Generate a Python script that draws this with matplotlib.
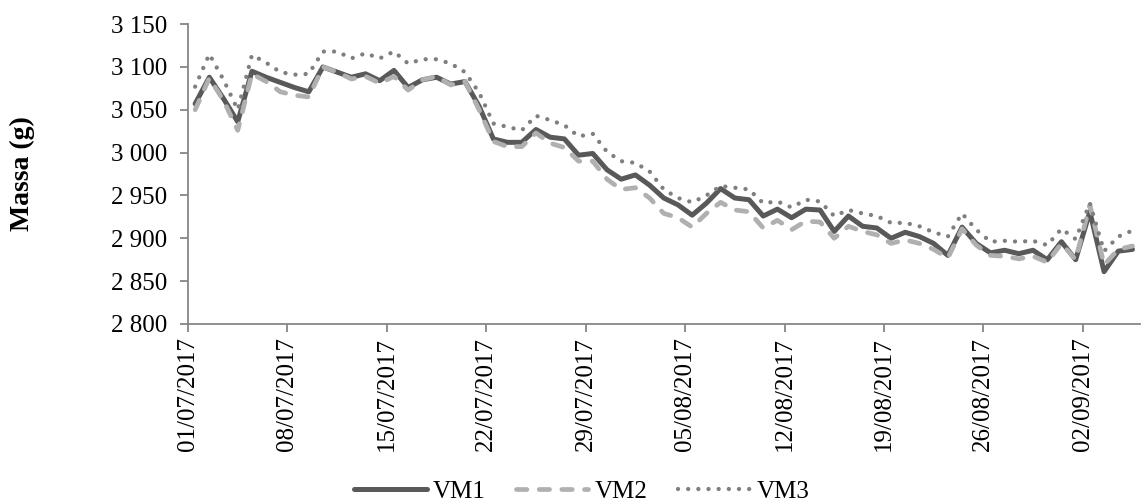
import numpy as np
import pandas as pd
import matplotlib
matplotlib.use("Agg")
import matplotlib.pyplot as plt
from matplotlib.ticker import FuncFormatter, FixedLocator

# daily mass readings, 01/07/2017 .. 05/09/2017
start_date = "2017-07-01"
vm1 = [3057, 3088, 3063, 3036, 3095, 3088, 3082, 3076, 3071, 3100, 3094,
       3088, 3092, 3084, 3096, 3076, 3085, 3088, 3080, 3083, 3054, 3016,
       3012, 3012, 3027, 3018, 3016, 2997, 2999, 2980, 2969, 2974, 2962,
       2947, 2939, 2927, 2941, 2958, 2947, 2945, 2926, 2934, 2924, 2934,
       2933, 2908, 2926, 2914, 2912, 2900, 2907, 2902, 2894, 2880, 2913,
       2894, 2883, 2886, 2882, 2886, 2875, 2896, 2875, 2931, 2861, 2885, 2887]
vm2 = [3050, 3087, 3061, 3026, 3092, 3083, 3071, 3067, 3065, 3100, 3094,
       3086, 3089, 3081, 3089, 3073, 3085, 3089, 3079, 3083, 3050, 3013,
       3007, 3007, 3023, 3011, 3006, 2990, 2990, 2969, 2957, 2959, 2947,
       2929, 2924, 2913, 2929, 2942, 2933, 2931, 2912, 2921, 2910, 2920,
       2919, 2900, 2914, 2908, 2904, 2894, 2898, 2894, 2887, 2877, 2911,
       2892, 2880, 2879, 2876, 2879, 2872, 2894, 2875, 2939, 2869, 2887, 2891]
vm3 = [3077, 3115, 3085, 3050, 3114, 3105, 3094, 3091, 3092, 3118, 3118,
       3110, 3116, 3110, 3118, 3104, 3109, 3109, 3104, 3094, 3070, 3034,
       3030, 3026, 3043, 3038, 3032, 3019, 3022, 3001, 2990, 2988, 2978,
       2957, 2947, 2942, 2950, 2961, 2959, 2957, 2941, 2943, 2936, 2945,
       2943, 2926, 2933, 2929, 2926, 2918, 2918, 2914, 2907, 2902, 2929,
       2910, 2896, 2897, 2896, 2897, 2892, 2911, 2899, 2941, 2885, 2902, 2909]
series_names = ["VM1", "VM2", "VM3"]
y_ticks = [2800, 2850, 2900, 2950, 3000, 3050, 3100, 3150]

dates = pd.date_range(start_date, periods=len(vm1), freq="D")
n = len(dates)
x = np.arange(n) + 0.5  # points sit between date ticks, like Excel

plt.rcParams['font.family'] = ['Liberation Serif', 'DejaVu Serif']

fig = plt.figure(figsize=(11.43, 5.03), dpi=100)
ax = fig.add_axes([0.1645, 0.356, 0.8325, 0.596])

ax.plot(x, vm1, color="#595959", lw=3.6, solid_capstyle="round",
        solid_joinstyle="round", label=series_names[0])
ax.plot(x, vm2, color="#b0b0b0", lw=3.4, linestyle=(0, (2.2, 2.6)),
        dash_capstyle="round", label=series_names[1])
ax.plot(x, vm3, color="#7f7f7f", lw=3.1, linestyle=(0, (0.01, 2.35)),
        dash_capstyle="round", label=series_names[2])

ax.set_xlim(0, n)
ax.set_ylim(2800, 3150)
ax.set_yticks(y_ticks)
ax.yaxis.set_major_formatter(FuncFormatter(lambda v, p: f"{int(v):,}".replace(",", " ")))

tick_pos = list(range(0, n, 7))
ax.xaxis.set_major_locator(FixedLocator(tick_pos))
ax.set_xticklabels([dates[i].strftime("%d/%m/%Y") for i in tick_pos], rotation=90)

for s in ["top", "right"]:
    ax.spines[s].set_visible(False)
for s in ["left", "bottom"]:
    ax.spines[s].set_color("#868686")
    ax.spines[s].set_linewidth(1.3)
ax.tick_params(axis="both", colors="#868686", width=1.3, length=6, labelcolor="black",
               labelsize=18)
ax.tick_params(axis="y", pad=9)

fig.text(0.0192, 0.654, "Massa (g)", rotation=90, ha="center", va="center",
         fontsize=20, fontweight="bold")

fig.legend(loc="center", bbox_to_anchor=(0.509, 0.022), ncol=3, frameon=False,
           fontsize=18, handlelength=2.9, handletextpad=0.25, columnspacing=1.2)

fig.savefig("out.png", dpi=100)
